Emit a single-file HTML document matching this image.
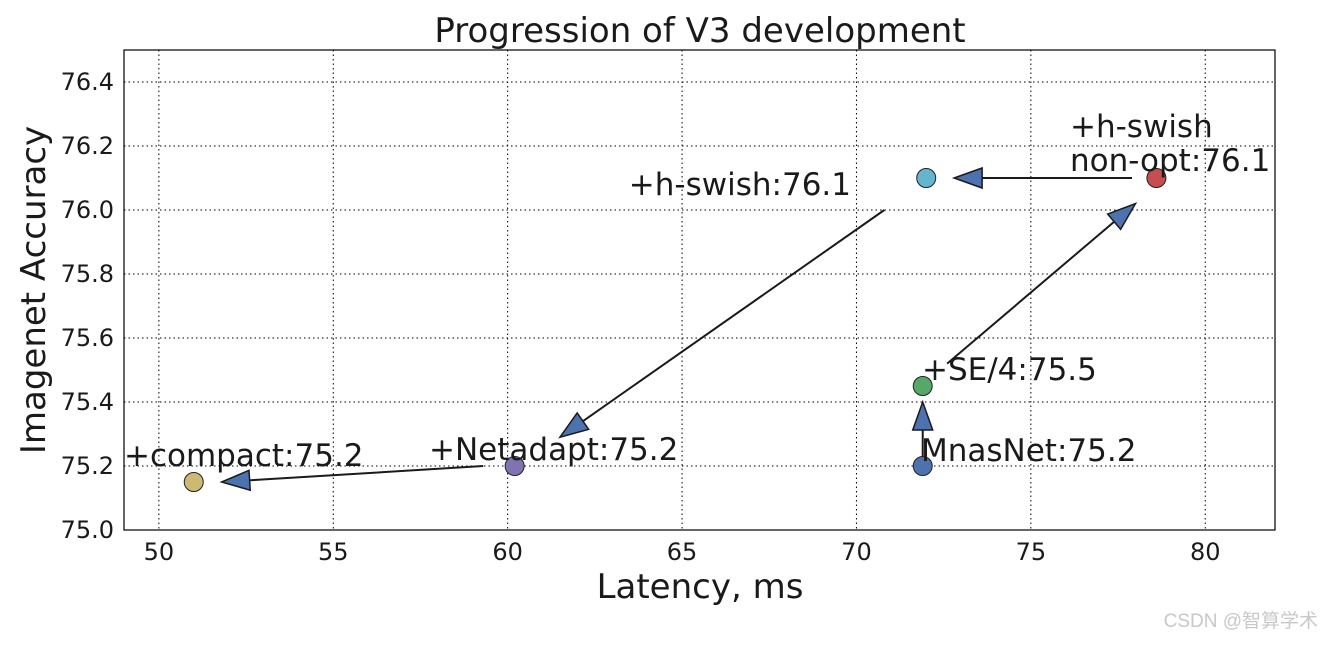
<!DOCTYPE html>
<html><head><meta charset="utf-8"><style>
body{margin:0;background:#fff;}
svg text{font-family:"DejaVu Sans","Liberation Sans",sans-serif;fill:#1a1a1a;}
</style></head><body>
<svg id="c" width="1322" height="641"></svg>
<script>
const xTicks=[50,55,60,65,70,75,80];
const yTicks=[75.0,75.2,75.4,75.6,75.8,76.0,76.2,76.4];
const pointNames=["MnasNet","+SE/4","+h-swish non-opt","+h-swish","+Netadapt","+compact"];
const latency=[71.9,71.9,78.6,72.0,60.2,51.0];
const accuracy=[75.2,75.45,76.1,76.1,75.2,75.15];
const colors=["#4c72b0","#55a868","#c44e52","#64b5cd","#8172b2","#ccb974"];
const arrowFromX=[71.9,72.6,77.9,70.8,59.3];
const arrowFromY=[75.19,75.52,76.1,76.0,75.2];
const arrowToX=[71.9,78.0,72.8,61.5,51.8];
const arrowToY=[75.4,76.02,76.1,75.29,75.15];
const L=124,R=1275,T=50,B=530,X0=49,X1=82,Y0=75.0,Y1=76.5;
const sx=v=>L+(v-X0)/(X1-X0)*(R-L);
const sy=v=>B-(v-Y0)/(Y1-Y0)*(B-T);
const svg=document.getElementById('c');
const NS='http://www.w3.org/2000/svg';
function mk(tag,attrs,parent){const e=document.createElementNS(NS,tag);for(const k in attrs)e.setAttribute(k,attrs[k]);(parent||svg).appendChild(e);return e;}
xTicks.forEach(v=>{
 const g=mk('line',{x1:sx(v),x2:sx(v),y1:T,y2:B,stroke:'#000','stroke-dasharray':'1.5,3','stroke-width':1});
 
 
 const t=mk('text',{x:sx(v),y:B+30,'text-anchor':'middle','font-size':24});
 t.textContent=v;
 
 
});
yTicks.forEach(v=>{
 const g=mk('line',{x1:L,x2:R,y1:sy(v),y2:sy(v),stroke:'#000','stroke-dasharray':'1.5,3','stroke-width':1});
 
 
 const t=mk('text',{x:L-10,y:sy(v)+8,'text-anchor':'end','font-size':24});
 t.textContent=v.toFixed(1);
 
 
});
const fr=mk('rect',{x:L,y:T,width:R-L,height:B-T,fill:'none',stroke:'#000','stroke-width':1.2});


arrowFromX.forEach((_,i)=>{
 const x1=sx(arrowFromX[i]),y1=sy(arrowFromY[i]),x2=sx(arrowToX[i]),y2=sy(arrowToY[i]);
 const dx=x2-x1,dy=y2-y1,len=Math.hypot(dx,dy),ux=dx/len,uy=dy/len,hl=28,hw=10;
 const bx=x2-ux*hl,by=y2-uy*hl;
 const ln=mk('line',{x1:x1,y1:y1,x2:bx,y2:by,stroke:'#1a1a1a','stroke-width':2});
 
 
 const pts=[[x2,y2],[bx-uy*hw,by+ux*hw],[bx+uy*hw,by-ux*hw]].map(p=>p.join(',')).join(' ');
 const h=mk('polygon',{points:pts,fill:'#4c72b0',stroke:'#1a1a1a','stroke-width':1.5});
 
 
});
latency.forEach((v,i)=>{
 const c=mk('circle',{cx:sx(v),cy:sy(accuracy[i]),r:9.5,fill:colors[i],stroke:'#222','stroke-width':1});
 
 
});
const labels=[["MnasNet:75.2",921,461,'start'],["+SE/4:75.5",922,380,'start'],["+h-swish",1070,137,'start'],["non-opt:76.1",1070,171,'start'],["+h-swish:76.1",851,195,'end'],["+Netadapt:75.2",429,460,'start'],["+compact:75.2",124,466,'start']];
labels.forEach(l=>{
 const t=mk('text',{x:l[1],y:l[2],'text-anchor':l[3],'font-size':31});
 t.textContent=l[0];
 
 
});
const ti=mk('text',{x:700,y:42,'text-anchor':'middle','font-size':34});ti.textContent='Progression of V3 development';


const xl=mk('text',{x:700,y:598,'text-anchor':'middle','font-size':34});xl.textContent='Latency, ms';


const yl=mk('text',{x:0,y:0,'text-anchor':'middle','font-size':34,transform:'translate(45,290) rotate(-90)'});yl.textContent='Imagenet Accuracy';


const wm=mk('text',{x:1318,y:627,'text-anchor':'end','font-size':19,style:'fill:#c8c8c8;font-family:"Liberation Sans","Noto Sans CJK SC",sans-serif'});wm.textContent='CSDN @智算学术';


</script>
</body></html>
